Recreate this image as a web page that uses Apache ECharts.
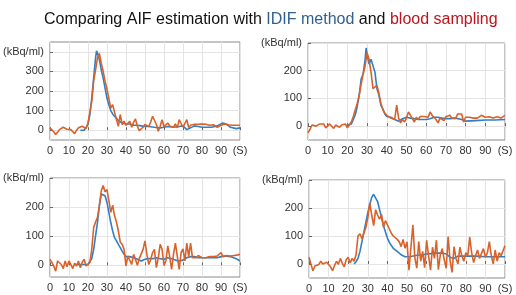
<!DOCTYPE html>
<html><head><meta charset="utf-8">
<script src="https://cdn.jsdelivr.net/npm/echarts@6/dist/echarts.min.js"></script>
<style>html,body{margin:0;padding:0;background:#fff}#c{width:516px;height:295px}</style>
</head><body><div id="c"></div>
<script>
// ---- data ----
const xTicks = [0,10,20,30,40,50,60,70,80,90,100];
const unitX = '(S)';
const unitY = '(kBq/ml)';

// Panel 1 (top-left)
const p1BloodT = [0,1,2,3,4,5,6,7,8,9,10,11,12,13,14,15,16,17,18,19,20,21,22,23,24,25,26,27,28,29,30,31,32,33,34,35,36,37,38,39,40,41,42,43,44,45,46,47,48,49,50,51,52,53,54,55,56,57,58,59,60,61,62,63,64,65,66,67,68,69,70,71,72,73,74,75,76,77,78,79,80,81,82,83,84,85,86,87,88,89,90,91,92,93,94,95,96,97,98,99,100];
const p1Blood = [12,5,-8,-22,-10,3,8,15,8,5,7,3,5,-18,0,12,15,20,14,8,37,90,147,250,308,368,392,342,300,250,210,210,113,130,137,54,20,80,29,46,25,20,46,15,40,58,20,-2,3,15,29,22,18,42,71,76,29,-5,20,54,18,12,37,22,18,15,32,12,54,54,15,5,54,14,25,25,30,28,30,25,32,28,30,28,25,32,28,20,15,22,25,30,32,35,28,20,25,28,25,22,25];
const p1IdifT = [16,17,18,19,20,21,22,23,24,24.5,25,26,27,28,29,30,31,32,33,34,35,36,38,40,42,44,46,48,50,52,55,58,60,62,65,68,70,72,74,76,78,80,85,88,91,93,95,98,100];
const p1Idif = [0,0,0,3,29,80,164,266,368,405,393,360,308,266,215,164,130,100,83,71,63,49,37,32,32,25,25,22,19,19,15,12,15,19,15,19,22,3,12,22,19,15,15,22,37,30,15,8,12];

// Panel 2 (top-right)
const p2BloodT = p1BloodT;
const p2Blood = [-24,-12,4,8,0,6,8,12,8,-6,-4,8,6,-8,4,8,-4,4,4,8,-6,4,15,35,59,82,112,153,188,218,265,241,194,135,141,147,118,82,59,47,39,35,29,32,24,76,29,12,24,15,29,51,51,27,15,32,24,35,29,35,39,32,51,39,32,24,12,29,32,20,34,29,39,29,24,29,44,39,44,15,32,29,32,34,29,32,29,34,39,34,32,30,34,32,29,32,34,30,29,32,39];
const p2IdifT = [20,22,23,24,25,26,27,28,29,29.5,30,31,32,33,34,35,36,37,38,39,40,42,44,46,48,50,52,54,56,58,60,62,64,66,68,70,72,75,78,80,85,90,95,100];
const p2Idif = [4,8,24,41,71,112,171,188,241,282,259,224,241,247,194,135,112,76,62,44,35,32,24,18,27,32,29,27,24,24,24,27,32,32,29,27,27,29,24,18,20,22,22,24];

// Panel 3 (bottom-left)
const p3BloodT = p1BloodT;
const p3Blood = [21,15,-2,-20,15,11,3,-11,15,-5,15,3,-11,7,-2,15,-8,11,21,-2,-8,9,55,130,149,164,205,256,274,253,260,222,182,207,170,149,118,80,72,55,-2,32,30,3,38,20,0,23,26,55,84,38,3,20,44,55,-8,26,72,55,0,15,67,30,-14,38,76,32,-14,44,57,15,76,30,76,26,30,26,34,30,26,28,26,30,30,28,30,32,32,34,44,30,34,34,30,32,30,34,38,36,38];
const p3IdifT = [13,15,18,20,21,22,23,24,25,26,27,28,29,30,31,32,33,34,35,36,37,38,39,40,42,44,46,48,50,52,54,56,58,60,62,64,66,68,70,72,74,76,78,80,84,88,90,92,95,98,100];
const p3Idif = [3,3,3,3,7,23,55,101,147,205,245,251,239,216,182,147,118,95,84,72,61,49,38,30,30,26,21,15,21,23,23,26,23,21,26,23,18,15,18,26,30,30,26,26,26,26,30,32,30,23,15];

// Panel 4 (bottom-right)
const p4BloodT = p1BloodT;
const p4Blood = [24,-1,-24,-7,-5,-2,10,0,-2,6,8,-10,-24,-6,10,-1,20,2,-10,16,24,4,20,10,33,100,108,90,85,130,165,218,175,137,194,175,160,177,131,155,150,125,110,100,95,88,80,62,88,56,79,-22,59,140,22,-15,80,10,45,-13,85,30,-22,60,20,85,-20,33,55,15,-15,98,10,-30,62,20,0,60,28,10,40,30,96,40,5,30,50,20,15,55,25,40,80,30,0,50,10,40,30,35,65];
const p4IdifT = [23,24,25,26,27,28,29,30,31,32,33,34,35,36,37,38,39,40,41,42,43,44,45,46,47,48,49,50,52,55,58,60,62,65,68,70,72,74,76,78,80,85,90,95,100];
const p4Idif = [0,8,20,45,79,114,148,183,211,238,249,245,223,194,166,137,114,93,77,66,56,51,45,39,33,28,26,26,27,31,33,36,37,39,39,36,24,20,28,28,28,28,26,26,26];

const panels = [
  {bt:p1BloodT,b:p1Blood,it:p1IdifT,i:p1Idif,ymin:-50,ymax:450,yTicks:[0,100,200,300,400]},
  {bt:p2BloodT,b:p2Blood,it:p2IdifT,i:p2Idif,ymin:-50,ymax:300,yTicks:[0,100,200,300]},
  {bt:p3BloodT,b:p3Blood,it:p3IdifT,i:p3Idif,ymin:-40,ymax:300,yTicks:[0,100,200,300]},
  {bt:p4BloodT,b:p4Blood,it:p4IdifT,i:p4Idif,ymin:-50,ymax:300,yTicks:[0,100,200,300]}
];

// ---- layout ----
const grids = [
  {left:43,right:276,top:42,bottom:155},
  {left:308,right:11,top:43,bottom:155},
  {left:43,right:276,top:178,bottom:18},
  {left:309,right:11,top:180,bottom:17}
];
const BLUE = '#2f7fc6', ORANGE = '#d9622b';
const FF = 'Liberation Sans, Arial, sans-serif';
const lab = {color:'#333', fontSize:11, fontFamily:FF};

const option = {
  animation:false,
  backgroundColor:'#fff',
  title:{
    left:39, top:7,
    text:'{a|Comparing AIF estimation with }{b|IDIF method}{a| and }{c|blood sampling}',
    textStyle:{fontWeight:'normal',rich:{
      a:{fontSize:16,fontWeight:'normal',color:'#111',fontFamily:FF},
      b:{fontSize:16,fontWeight:'normal',color:'#2f5f92',fontFamily:FF},
      c:{fontSize:16,fontWeight:'normal',color:'#c0141c',fontFamily:FF}
    }}
  },
  grid: grids.map(g=>Object.assign({show:true,borderColor:'#8a8a8a',borderWidth:1,backgroundColor:'transparent'},g)),
  xAxis: panels.map((p,k)=>({
    type:'value', gridIndex:k, min:0, max:100, interval:10,
    axisLine:{show:false}, axisTick:{show:true,inside:true,length:3,lineStyle:{color:'#666'}},
    splitLine:{show:true,lineStyle:{color:'#e4e4e4',width:1}},
    axisLabel:Object.assign({margin:5,showMaxLabel:true,showMinLabel:true,
      formatter:v=>v===100?unitX:String(v)},lab)
  })),
  yAxis: panels.map((p,k)=>({
    type:'value', gridIndex:k, min:p.ymin, max:p.ymax,
    axisLine:{show:false},
    axisTick:{show:true,inside:true,length:3,lineStyle:{color:'#666'},customValues:p.yTicks},
    splitLine:{show:true,lineStyle:{color:'#e4e4e4',width:1}},
    axisLabel:Object.assign({margin:6,customValues:p.yTicks,
      formatter:v=>v===p.yTicks[p.yTicks.length-1]?unitY:String(v)},lab)
  })),
  series: panels.flatMap((p,k)=>[
    {type:'line',xAxisIndex:k,yAxisIndex:k,data:p.it.map((t,j)=>[t,p.i[j]]),showSymbol:false,
      lineStyle:{color:BLUE,width:1.6},itemStyle:{color:BLUE},z:2},
    {type:'line',xAxisIndex:k,yAxisIndex:k,data:p.bt.map((t,j)=>[t,p.b[j]]),showSymbol:false,
      lineStyle:{color:ORANGE,width:1.6},itemStyle:{color:ORANGE},z:3}
  ])
};
echarts.init(document.getElementById('c'),null,{renderer:'canvas'}).setOption(option);
</script></body></html>
